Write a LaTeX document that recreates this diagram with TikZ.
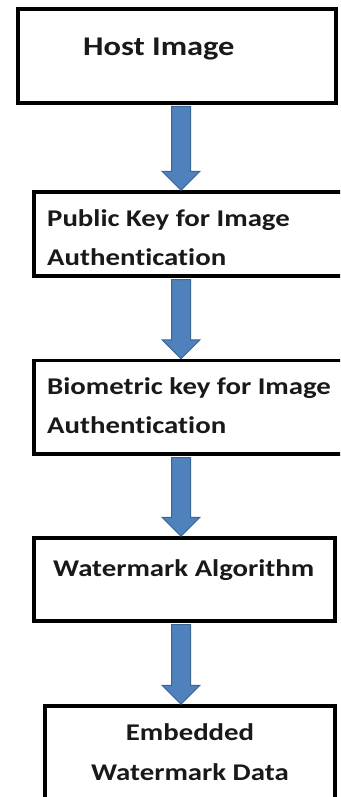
\documentclass[tikz,border=0pt]{standalone}
\usepackage{fontspec}
\setmainfont{Carlito}[FakeStretch=1.2,Ligatures=NoCommon]
\usetikzlibrary{calc}
\definecolor{arrowfill}{HTML}{4F81BD}
\definecolor{arrowline}{HTML}{3A6493}
\begin{document}
\begin{tikzpicture}[x=1pt,y=-1pt,
  boxnode/.style={draw=black,line width=3.5pt,fill=white,rectangle,inner sep=0pt},
  label/.style={inner sep=0pt,font=\fontsize{24}{28}\selectfont\bfseries,text=black!90},
  biglabel/.style={label,font=\fontsize{27}{32}\selectfont\bfseries},
  bigarrow/.style={fill=arrowfill,draw=arrowline,line width=1pt,line join=miter}]
\useasboundingbox (0,0) rectangle (340,797);
\clip (0,0) rectangle (340,797);
\coordinate (ax) at (181,0);
% boxes
\node[boxnode,minimum width=318pt,minimum height=94pt] (b1) at (177,56) {};
\node[boxnode,minimum width=326pt,minimum height=84pt] (b2) at (197,234) {};
\node[boxnode,minimum width=326pt,minimum height=93.5pt] (b3) at (197,407.25) {};
\node[boxnode,minimum width=301pt,minimum height=83pt] (b4) at (184.5,579.5) {};
\node[boxnode,minimum width=290pt,minimum height=114pt] (b5) at (190,763) {};
% arrows
\foreach \a/\b in {b1/b2,b2/b3,b3/b4,b4/b5}{
  \path[bigarrow]
    ($(ax |- \a.south)+(-9.5,1.75)$) --
    ($(ax |- \b.north)+(-9.5,-19)$) --
    ($(ax |- \b.north)+(-19,-19)$) --
    ($(ax |- \b.north)+(0,0)$) --
    ($(ax |- \b.north)+(19,-19)$) --
    ($(ax |- \b.north)+(9.5,-19)$) --
    ($(ax |- \a.south)+(9.5,1.75)$) -- cycle;
}
% texts
\node[biglabel,anchor=base west] (t1) at (83,56) {Host Image};
\node[label,anchor=base west] (t2a) at (47,226) {Public Key for Image};
\node[label,anchor=base west] (t2b) at (47,265) {Authentication};
\node[label,anchor=base west] (t3a) at (47,394) {Biometric key for Image};
\node[label,anchor=base west] (t3b) at (47,433) {Authentication};
\node[label,anchor=base west] (t4) at (53,576) {Watermark Algorithm};
\node[label,anchor=base] (t5a) at (190,740) {Embedded};
\node[label,anchor=base] (t5b) at (190,780) {Watermark Data};
\end{tikzpicture}
\end{document}
